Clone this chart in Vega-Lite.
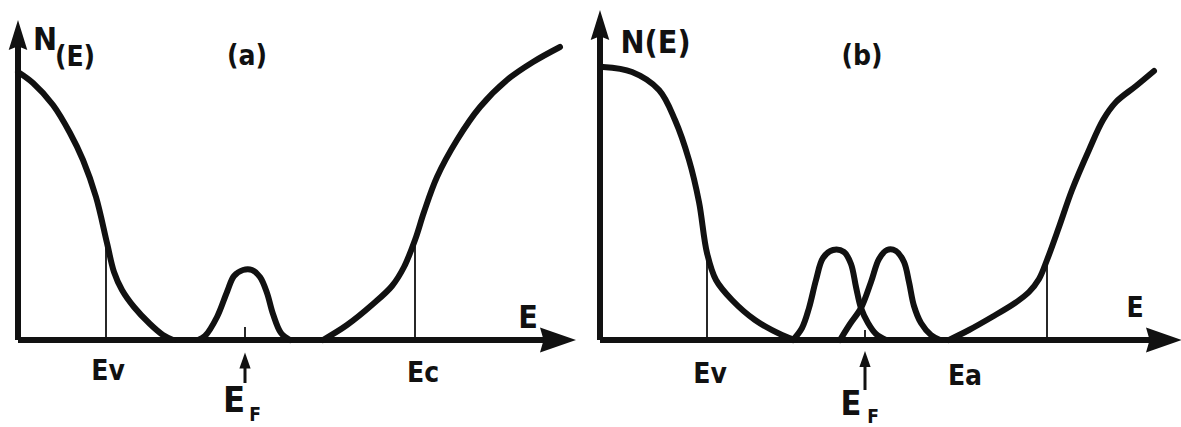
{
  "$schema": "https://vega.github.io/schema/vega-lite/v6.json",
  "background": "white",
  "padding": 0,
  "spacing": 0,
  "config": {
    "view": {"stroke": null},
    "text": {"font": "DejaVu Sans Condensed", "color": "#111111", "baseline": "alphabetic", "align": "center", "fontWeight": 600}
  },
  "datasets": {
    "a_curves": [
      {"band": "valence", "E": 0.0, "N": 26.8}, {"band": "valence", "E": 1.5, "N": 25.7}, {"band": "valence", "E": 3.5, "N": 23.5},
      {"band": "valence", "E": 5.2, "N": 20.7}, {"band": "valence", "E": 6.5, "N": 18.0}, {"band": "valence", "E": 7.8, "N": 14.3},
      {"band": "valence", "E": 8.9, "N": 9.7}, {"band": "valence", "E": 9.6, "N": 6.8}, {"band": "valence", "E": 10.4, "N": 5.0},
      {"band": "valence", "E": 11.6, "N": 3.3}, {"band": "valence", "E": 13.2, "N": 1.6}, {"band": "valence", "E": 14.5, "N": 0.5},
      {"band": "valence", "E": 15.5, "N": 0.0},
      {"band": "defect", "E": 18.0, "N": 0.0}, {"band": "defect", "E": 18.7, "N": 0.4}, {"band": "defect", "E": 19.9, "N": 2.3},
      {"band": "defect", "E": 20.9, "N": 4.8}, {"band": "defect", "E": 21.6, "N": 6.4}, {"band": "defect", "E": 22.5, "N": 7.0},
      {"band": "defect", "E": 23.4, "N": 7.0}, {"band": "defect", "E": 24.2, "N": 6.3}, {"band": "defect", "E": 24.9, "N": 4.7},
      {"band": "defect", "E": 25.5, "N": 2.6}, {"band": "defect", "E": 26.3, "N": 0.7}, {"band": "defect", "E": 27.2, "N": 0.0},
      {"band": "conduction", "E": 30.5, "N": 0.0}, {"band": "conduction", "E": 32.9, "N": 1.5}, {"band": "conduction", "E": 35.5, "N": 3.6},
      {"band": "conduction", "E": 37.4, "N": 5.4}, {"band": "conduction", "E": 38.6, "N": 7.3}, {"band": "conduction", "E": 39.7, "N": 10.0},
      {"band": "conduction", "E": 40.6, "N": 12.8}, {"band": "conduction", "E": 41.9, "N": 16.3}, {"band": "conduction", "E": 43.9, "N": 20.0},
      {"band": "conduction", "E": 46.2, "N": 23.3}, {"band": "conduction", "E": 48.9, "N": 26.0}, {"band": "conduction", "E": 51.5, "N": 27.8},
      {"band": "conduction", "E": 54.2, "N": 29.3}
    ],
    "a_axes": [
      {"E": 0, "N": 0, "E2": 0, "N2": 29.5},
      {"E": 0, "N": 0, "E2": 53.5, "N2": 0}
    ],
    "a_marks": [
      {"name": "Ev", "E": 8.8, "N": 0, "E2": 8.8, "N2": 9.6},
      {"name": "Ec", "E": 39.7, "N": 0, "E2": 39.7, "N2": 10.0},
      {"name": "EF tick", "E": 22.7, "N": 0, "E2": 22.7, "N2": 1.3}
    ],
    "a_shafts": [
      {"name": "EF arrow", "E": 22.7, "N": -2.2, "E2": 22.7, "N2": -4.3}
    ],
    "a_up": [{"E": 0, "N": 30.5}],
    "a_right": [{"E": 54.0, "N": 0}],
    "a_small": [{"E": 22.7, "N": -2.05}],
    "a_t30": [
      {"label": "(a)", "E": 22.9, "N": 27.5},
      {"label": "(E)", "E": 5.7, "N": 27.4},
      {"label": "Ev", "E": 9.0, "N": -4.0},
      {"label": "Ec", "E": 40.5, "N": -4.2}
    ],
    "a_t34": [
      {"label": "N", "E": 2.7, "N": 29.0},
      {"label": "E", "E": 51.0, "N": 1.2}
    ],
    "a_tE": [{"label": "E", "E": 21.6, "N": -7.2}],
    "a_tF": [{"label": "F", "E": 23.7, "N": -8.1}],

    "b_curves": [
      {"band": "valence", "E": 0.3, "N": 27.3}, {"band": "valence", "E": 3.2, "N": 26.8}, {"band": "valence", "E": 5.9, "N": 25.0},
      {"band": "valence", "E": 7.5, "N": 22.0}, {"band": "valence", "E": 8.9, "N": 18.0}, {"band": "valence", "E": 9.9, "N": 13.8},
      {"band": "valence", "E": 10.7, "N": 8.7}, {"band": "valence", "E": 11.6, "N": 6.0}, {"band": "valence", "E": 13.2, "N": 4.0},
      {"band": "valence", "E": 15.5, "N": 2.0}, {"band": "valence", "E": 18.2, "N": 0.5}, {"band": "valence", "E": 19.5, "N": 0.0},
      {"band": "defect 1", "E": 19.3, "N": 0.0}, {"band": "defect 1", "E": 20.2, "N": 1.2}, {"band": "defect 1", "E": 20.9, "N": 3.2},
      {"band": "defect 1", "E": 21.6, "N": 6.0}, {"band": "defect 1", "E": 22.3, "N": 8.2}, {"band": "defect 1", "E": 23.3, "N": 9.0},
      {"band": "defect 1", "E": 24.4, "N": 8.8}, {"band": "defect 1", "E": 25.1, "N": 7.6}, {"band": "defect 1", "E": 25.6, "N": 5.3},
      {"band": "defect 1", "E": 26.1, "N": 3.2}, {"band": "defect 1", "E": 26.8, "N": 1.7}, {"band": "defect 1", "E": 27.6, "N": 0.6},
      {"band": "defect 1", "E": 28.6, "N": 0.0},
      {"band": "defect 2", "E": 24.0, "N": 0.0}, {"band": "defect 2", "E": 25.0, "N": 1.6}, {"band": "defect 2", "E": 26.1, "N": 3.2},
      {"band": "defect 2", "E": 27.1, "N": 5.8}, {"band": "defect 2", "E": 27.9, "N": 8.1}, {"band": "defect 2", "E": 28.7, "N": 9.0},
      {"band": "defect 2", "E": 29.6, "N": 8.9}, {"band": "defect 2", "E": 30.4, "N": 7.8}, {"band": "defect 2", "E": 30.9, "N": 5.8},
      {"band": "defect 2", "E": 31.4, "N": 3.4}, {"band": "defect 2", "E": 32.1, "N": 1.7}, {"band": "defect 2", "E": 33.1, "N": 0.5},
      {"band": "defect 2", "E": 34.0, "N": 0.0},
      {"band": "conduction", "E": 34.9, "N": 0.0}, {"band": "conduction", "E": 36.9, "N": 1.0}, {"band": "conduction", "E": 39.2, "N": 2.3},
      {"band": "conduction", "E": 41.5, "N": 3.7}, {"band": "conduction", "E": 42.9, "N": 4.8}, {"band": "conduction", "E": 43.9, "N": 6.1},
      {"band": "conduction", "E": 44.7, "N": 8.0}, {"band": "conduction", "E": 45.9, "N": 11.3}, {"band": "conduction", "E": 47.2, "N": 15.0},
      {"band": "conduction", "E": 48.9, "N": 19.0}, {"band": "conduction", "E": 50.3, "N": 22.0}, {"band": "conduction", "E": 51.6, "N": 23.8},
      {"band": "conduction", "E": 53.6, "N": 25.4}, {"band": "conduction", "E": 55.4, "N": 26.9}
    ],
    "b_axes": [
      {"E": 0, "N": 0, "E2": 0, "N2": 30.5},
      {"E": 0, "N": 0, "E2": 55.8, "N2": 0}
    ],
    "b_marks": [
      {"name": "Ev", "E": 10.7, "N": 0, "E2": 10.7, "N2": 8.7},
      {"name": "Ea", "E": 44.7, "N": 0, "E2": 44.7, "N2": 7.9},
      {"name": "EF tick", "E": 26.5, "N": 0, "E2": 26.5, "N2": 1.0}
    ],
    "b_shafts": [
      {"name": "EF arrow", "E": 26.5, "N": -2.0, "E2": 26.5, "N2": -5.0}
    ],
    "b_up": [{"E": 0, "N": 31.5}],
    "b_right": [{"E": 56.4, "N": 0}],
    "b_small": [{"E": 26.5, "N": -1.9}],
    "b_t30": [
      {"label": "(b)", "E": 26.2, "N": 27.5},
      {"label": "Ev", "E": 11.0, "N": -4.3},
      {"label": "Ea", "E": 36.5, "N": -4.5},
      {"label": "E", "E": 53.5, "N": 2.3}
    ],
    "b_t34": [{"label": "N(E)", "E": 5.55, "N": 28.7}],
    "b_tE": [{"label": "E", "E": 25.1, "N": -7.5}],
    "b_tF": [{"label": "F", "E": 27.3, "N": -8.3}]
  },
  "hconcat": [
    {
      "width": 590,
      "height": 427,
      "encoding": {
        "x": {"field": "E", "type": "quantitative", "axis": null, "scale": {"domain": [-1.8, 57.2], "nice": false, "zero": false}},
        "y": {"field": "N", "type": "quantitative", "axis": null, "scale": {"domain": [-8.7, 34.0], "nice": false, "zero": false}}
      },
      "layer": [
        {"data": {"name": "a_axes"}, "mark": {"type": "rule", "strokeWidth": 6, "color": "#111111"},
         "encoding": {"x2": {"field": "E2"}, "y2": {"field": "N2"}}},
        {"data": {"name": "a_marks"}, "mark": {"type": "rule", "strokeWidth": 1.8, "color": "#111111"},
         "encoding": {"x2": {"field": "E2"}, "y2": {"field": "N2"}}},
        {"data": {"name": "a_shafts"}, "mark": {"type": "rule", "strokeWidth": 3, "color": "#111111"},
         "encoding": {"x2": {"field": "E2"}, "y2": {"field": "N2"}}},
        {"data": {"name": "a_curves"}, "mark": {"type": "line", "interpolate": "catmull-rom", "strokeWidth": 6, "color": "#111111", "strokeCap": "round", "strokeJoin": "round"},
         "encoding": {"detail": {"field": "band"}}},
        {"data": {"name": "a_up"}, "mark": {"type": "point", "filled": true, "opacity": 1, "color": "#111111", "size": 900, "shape": "M0,-1L0.62,1L0,0.75L-0.62,1Z"}},
        {"data": {"name": "a_right"}, "mark": {"type": "point", "filled": true, "opacity": 1, "color": "#111111", "size": 1296, "shape": "M1,0L-1,0.7L-0.8,0L-1,-0.7Z"}},
        {"data": {"name": "a_small"}, "mark": {"type": "point", "filled": true, "opacity": 1, "color": "#111111", "size": 256, "shape": "M0,-1L0.7,1L-0.7,1Z"}},
        {"data": {"name": "a_t30"}, "mark": {"type": "text", "fontSize": 28}, "encoding": {"text": {"field": "label"}}},
        {"data": {"name": "a_t34"}, "mark": {"type": "text", "fontSize": 32}, "encoding": {"text": {"field": "label"}}},
        {"data": {"name": "a_tE"}, "mark": {"type": "text", "fontSize": 36}, "encoding": {"text": {"field": "label"}}},
        {"data": {"name": "a_tF"}, "mark": {"type": "text", "fontSize": 19, "fontWeight": "bold"}, "encoding": {"text": {"field": "label"}}}
      ]
    },
    {
      "width": 591,
      "height": 427,
      "encoding": {
        "x": {"field": "E", "type": "quantitative", "axis": null, "scale": {"domain": [-0.8, 58.3], "nice": false, "zero": false}},
        "y": {"field": "N", "type": "quantitative", "axis": null, "scale": {"domain": [-8.7, 34.0], "nice": false, "zero": false}}
      },
      "layer": [
        {"data": {"name": "b_axes"}, "mark": {"type": "rule", "strokeWidth": 6, "color": "#111111"},
         "encoding": {"x2": {"field": "E2"}, "y2": {"field": "N2"}}},
        {"data": {"name": "b_marks"}, "mark": {"type": "rule", "strokeWidth": 1.8, "color": "#111111"},
         "encoding": {"x2": {"field": "E2"}, "y2": {"field": "N2"}}},
        {"data": {"name": "b_shafts"}, "mark": {"type": "rule", "strokeWidth": 3, "color": "#111111"},
         "encoding": {"x2": {"field": "E2"}, "y2": {"field": "N2"}}},
        {"data": {"name": "b_curves"}, "mark": {"type": "line", "interpolate": "catmull-rom", "strokeWidth": 6, "color": "#111111", "strokeCap": "round", "strokeJoin": "round"},
         "encoding": {"detail": {"field": "band"}}},
        {"data": {"name": "b_up"}, "mark": {"type": "point", "filled": true, "opacity": 1, "color": "#111111", "size": 900, "shape": "M0,-1L0.62,1L0,0.75L-0.62,1Z"}},
        {"data": {"name": "b_right"}, "mark": {"type": "point", "filled": true, "opacity": 1, "color": "#111111", "size": 1296, "shape": "M1,0L-1,0.7L-0.8,0L-1,-0.7Z"}},
        {"data": {"name": "b_small"}, "mark": {"type": "point", "filled": true, "opacity": 1, "color": "#111111", "size": 256, "shape": "M0,-1L0.7,1L-0.7,1Z"}},
        {"data": {"name": "b_t30"}, "mark": {"type": "text", "fontSize": 28}, "encoding": {"text": {"field": "label"}}},
        {"data": {"name": "b_t34"}, "mark": {"type": "text", "fontSize": 32}, "encoding": {"text": {"field": "label"}}},
        {"data": {"name": "b_tE"}, "mark": {"type": "text", "fontSize": 34}, "encoding": {"text": {"field": "label"}}},
        {"data": {"name": "b_tF"}, "mark": {"type": "text", "fontSize": 19, "fontWeight": "bold"}, "encoding": {"text": {"field": "label"}}}
      ]
    }
  ]
}
